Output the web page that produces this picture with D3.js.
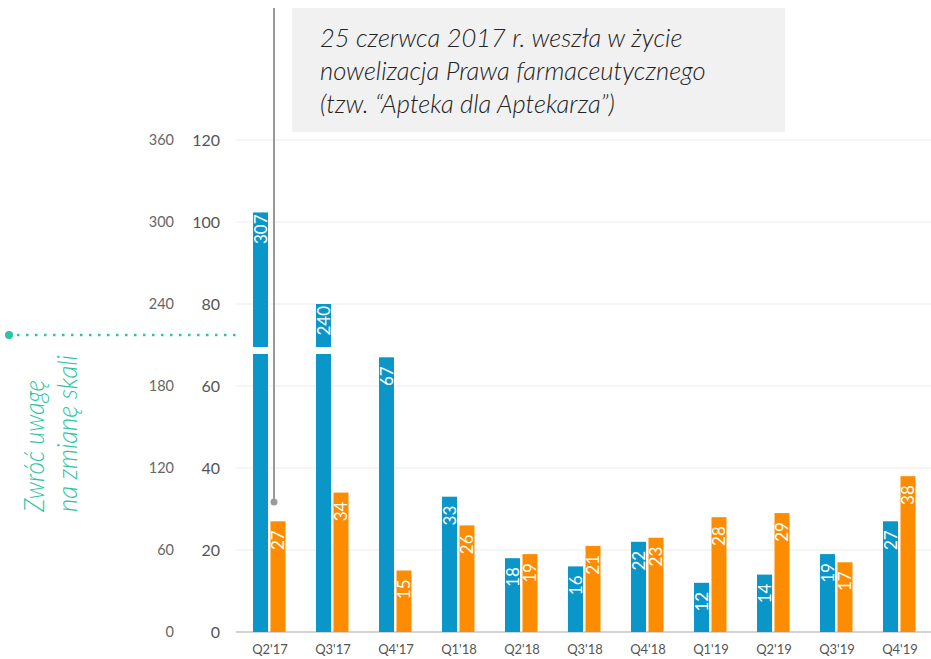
<!DOCTYPE html>
<html>
<head>
<meta charset="utf-8">
<script src="https://cdn.jsdelivr.net/npm/d3@7"></script>
<style>
  body { margin: 0; background: #fff; }
  svg { display: block; font-family: Lato, "Open Sans", sans-serif; }
</style>
</head>
<body>
<svg id="chart" width="931" height="659"></svg>
<script>
// quarters on the x axis
const quarters = ["Q2'17", "Q3'17", "Q4'17", "Q1'18", "Q2'18", "Q3'18", "Q4'18", "Q1'19", "Q2'19", "Q3'19", "Q4'19"];
// blue series (first two values are read on the outer, x3 scale)
const blueValues = [307, 240, 67, 33, 18, 16, 22, 12, 14, 19, 27];
// orange series
const orangeValues = [27, 34, 15, 26, 19, 21, 23, 28, 29, 17, 38];
const innerTicks = [0, 20, 40, 60, 80, 100, 120];
const outerTicks = [0, 60, 120, 180, 240, 300, 360];
const scaleFactor = 3; // outer axis = inner axis * 3
const noteLines = ["25 czerwca 2017 r. weszła w życie", "nowelizacja Prawa farmaceutycznego", "(tzw. \u201cApteka dla Aptekarza\u201d)"];
const sideNote = ["Zwróć uwagę", "na zmianę skali"];

const blue = "#0a96c9";
const orange = "#fd8c00";
const green = "#2cc4a2";

const svg = d3.select("#chart");

const x = d3.scaleBand().domain(quarters).range([238.5, 931.5]);
const y = d3.scaleLinear().domain([0, 120]).range([632, 140]);

// plotted value: large ones go on the x3 scale
const plotted = v => v > 120 ? v / scaleFactor : v;

// gridlines
svg.append("g")
  .selectAll("line")
  .data(innerTicks.slice(1))
  .join("line")
  .attr("x1", 236).attr("x2", 931)
  .attr("y1", d => y(d)).attr("y2", d => y(d))
  .attr("stroke", "#ebebeb").attr("stroke-width", 1);

// inner axis labels
svg.append("g")
  .selectAll("text")
  .data(innerTicks)
  .join("text")
  .attr("x", 220)
  .attr("y", d => y(d) + 6)
  .attr("text-anchor", "end")
  .attr("font-size", 16)
  .attr("fill", "#555")
  .text(d => d);

// outer axis labels
svg.append("g")
  .selectAll("text")
  .data(outerTicks)
  .join("text")
  .attr("x", 174)
  .attr("y", (d, i) => y(innerTicks[i]) + 5)
  .attr("text-anchor", "end")
  .attr("font-size", 14.5)
  .attr("fill", "#666")
  .text(d => d);

// x axis line
svg.append("line")
  .attr("x1", 236).attr("x2", 931)
  .attr("y1", y(0)).attr("y2", y(0))
  .attr("stroke", "#c4c4c4").attr("stroke-width", 1.5);

// x labels
svg.append("g")
  .selectAll("text")
  .data(quarters)
  .join("text")
  .attr("x", d => x(d) + x.bandwidth() / 2)
  .attr("y", 654)
  .attr("text-anchor", "middle")
  .attr("font-size", 13)
  .attr("fill", "#555")
  .text(d => d);

const barW = 15;
const series = [
  { values: blueValues, color: blue, offset: -17 },
  { values: orangeValues, color: orange, offset: 0.5 }
];

series.forEach(s => {
  const g = svg.append("g");
  const rows = quarters.map((q, i) => ({ q, v: s.values[i] }));
  g.selectAll("rect")
    .data(rows)
    .join("rect")
    .attr("x", d => x(d.q) + x.bandwidth() / 2 + s.offset)
    .attr("y", d => y(plotted(d.v)))
    .attr("width", barW)
    .attr("height", d => y(0) - y(plotted(d.v)))
    .attr("fill", s.color);

  // white break on bars drawn with the outer scale
  g.selectAll("rect.brk")
    .data(rows.filter(d => d.v > 120))
    .join("rect")
    .attr("class", "brk")
    .attr("x", d => x(d.q) + x.bandwidth() / 2 + s.offset - 1)
    .attr("y", 347)
    .attr("width", barW + 2)
    .attr("height", 7)
    .attr("fill", "#fff");

  g.selectAll("text")
    .data(rows)
    .join("text")
    .attr("transform", d => {
      const cx = x(d.q) + x.bandwidth() / 2 + s.offset + barW / 2 + 6;
      const top = y(plotted(d.v)) + (d.v > 120 ? 2 : 9);
      return `translate(${cx},${top}) rotate(-90)`;
    })
    .attr("text-anchor", "end")
    .attr("font-size", 17)
    .attr("fill", "#fff")
    .text(d => d.v);
});

// annotation box
svg.append("rect")
  .attr("x", 292).attr("y", 8)
  .attr("width", 493).attr("height", 124)
  .attr("fill", "#f1f1f1");

svg.append("g")
  .selectAll("text")
  .data(noteLines)
  .join("text")
  .attr("x", 320)
  .attr("y", (d, i) => 47 + i * 33)
  .attr("font-size", 25.5)
  .attr("font-style", "italic")
  .attr("font-weight", 300)
  .attr("fill", "#222")
  .text(d => d);

// vertical marker line for June 2017
svg.append("line")
  .attr("x1", 274).attr("x2", 274)
  .attr("y1", 8).attr("y2", 502)
  .attr("stroke", "#999").attr("stroke-width", 2);
svg.append("circle")
  .attr("cx", 274).attr("cy", 502).attr("r", 3.5)
  .attr("fill", "#999");

// scale change marker
svg.append("circle")
  .attr("cx", 9).attr("cy", 335).attr("r", 4)
  .attr("fill", green);
svg.append("line")
  .attr("x1", 17).attr("x2", 240)
  .attr("y1", 335).attr("y2", 335)
  .attr("stroke", green).attr("stroke-width", 2.5)
  .attr("stroke-dasharray", "2.5 6.5")
  .attr("stroke-linecap", "butt");

const sideLen = [132, 157];
svg.append("g")
  .selectAll("text")
  .data(sideNote)
  .join("text")
  .attr("transform", (d, i) => `translate(${44 + i * 33},512) rotate(-90)`)
  .attr("font-size", 28)
  .attr("font-style", "italic")
  .attr("font-weight", 300)
  .attr("textLength", (d, i) => sideLen[i])
  .attr("lengthAdjust", "spacingAndGlyphs")
  .attr("fill", green)
  .text(d => d);
</script>
</body>
</html>
